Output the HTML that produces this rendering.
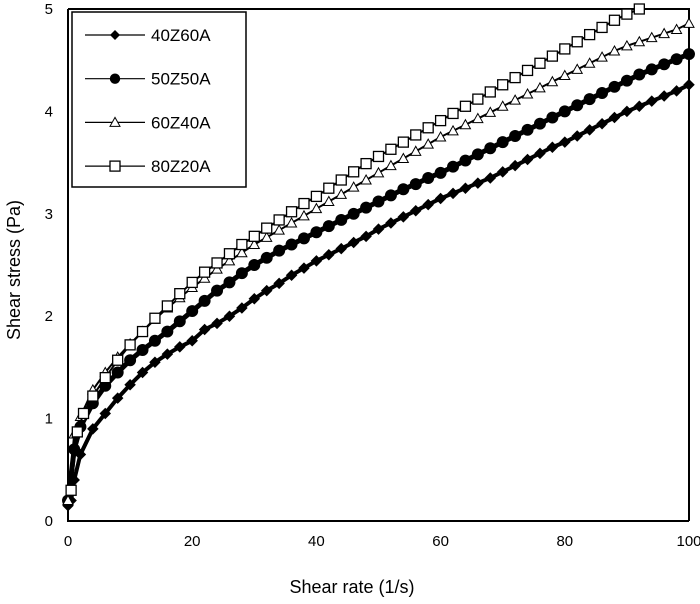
<!DOCTYPE html>
<html><head><meta charset="utf-8"><style>
body{margin:0;background:#fff;}
svg text{font-family:"Liberation Sans",Arial,sans-serif;fill:#000;}
</style></head><body>
<svg id="c" width="700" height="599" xmlns="http://www.w3.org/2000/svg"></svg>
<script>
const seriesNames=["40Z60A","50Z50A","60Z40A","80Z20A"];
const xA=[0,0.5,1,2,4,6,8,10,12,14,16,18,20,22,24,26,28,30,32,34,36,38,40,42,44,46,48,50,52,54,56,58,60,62,64,66,68,70,72,74,76,78,80,82,84,86,88,90,92,94,96,98,100];
const y40=[0.15,0.2,0.4,0.65,0.9,1.05,1.2,1.33,1.45,1.55,1.63,1.7,1.76,1.87,1.93,2.0,2.08,2.17,2.25,2.32,2.4,2.47,2.54,2.6,2.66,2.72,2.78,2.85,2.91,2.97,3.03,3.09,3.15,3.2,3.25,3.3,3.35,3.41,3.47,3.53,3.59,3.65,3.7,3.76,3.82,3.88,3.94,4.0,4.05,4.1,4.15,4.2,4.26];
const xB=[0,1,2,4,6,8,10,12,14,16,18,20,22,24,26,28,30,32,34,36,38,40,42,44,46,48,50,52,54,56,58,60,62,64,66,68,70,72,74,76,78,80,82,84,86,88,90,92,94,96,98,100];
const y50=[0.2,0.7,0.92,1.15,1.32,1.45,1.57,1.67,1.76,1.85,1.95,2.05,2.15,2.25,2.33,2.42,2.5,2.57,2.64,2.7,2.76,2.82,2.88,2.94,3.0,3.06,3.12,3.18,3.24,3.29,3.35,3.4,3.46,3.52,3.58,3.64,3.7,3.76,3.82,3.88,3.94,4.0,4.06,4.12,4.18,4.24,4.3,4.36,4.41,4.46,4.51,4.56];
const y60=[0.2,0.85,1.02,1.28,1.45,1.6,1.73,1.85,1.97,2.08,2.18,2.28,2.37,2.46,2.54,2.62,2.7,2.77,2.84,2.91,2.98,3.05,3.12,3.19,3.26,3.33,3.4,3.47,3.54,3.61,3.68,3.75,3.81,3.87,3.93,3.99,4.05,4.11,4.17,4.23,4.29,4.35,4.41,4.47,4.53,4.59,4.64,4.68,4.72,4.76,4.8,4.86];
const xD=[0.5,1.5,2.5,4,6,8,10,12,14,16,18,20,22,24,26,28,30,32,34,36,38,40,42,44,46,48,50,52,54,56,58,60,62,64,66,68,70,72,74,76,78,80,82,84,86,88,90,92];
const y80=[0.3,0.87,1.05,1.22,1.4,1.57,1.72,1.85,1.98,2.1,2.22,2.33,2.43,2.52,2.61,2.7,2.78,2.86,2.94,3.02,3.1,3.17,3.25,3.33,3.41,3.49,3.56,3.63,3.7,3.77,3.84,3.91,3.98,4.05,4.12,4.19,4.26,4.33,4.4,4.47,4.54,4.61,4.68,4.75,4.82,4.89,4.95,5.0];
const xTicks=[0,20,40,60,80,100];
const yTicks=[0,1,2,3,4,5];

const svg=document.getElementById('c');const NS="http://www.w3.org/2000/svg";
const X0=68,X1=689,Y0=521,Y1=9;
const sx=v=>X0+(X1-X0)*v/100, sy=v=>Y0-(Y0-Y1)*v/5;
function mk(t,a,p){const e=document.createElementNS(NS,t);for(const k in a)e.setAttribute(k,a[k]);(p||svg).appendChild(e);return e;}
function marker(type,cx,cy,g,big){
 const s=big?1.15:1;
 if(type==0)return mk('polygon',{points:`${cx},${cy-5*s} ${cx+5*s},${cy} ${cx},${cy+5*s} ${cx-5*s},${cy}`,fill:'#000'},g);
 if(type==1)return mk('circle',{cx,cy,r:5.2*s,fill:'#000'},g);
 if(type==2)return mk('polygon',{points:`${cx},${cy-5} ${cx+5},${cy+4} ${cx-5},${cy+4}`,fill:'#fff',stroke:'#000','stroke-width':1},g);
 return mk('rect',{x:cx-5,y:cy-5,width:10,height:10,fill:'#fff',stroke:'#000','stroke-width':1.3},g);
}
const fr=mk('path',{d:`M${X0},${Y1} L${X1},${Y1} L${X1},${Y0} M${X0},${Y1} L${X0},${Y0} L${X1},${Y0}`,stroke:'#000','stroke-width':2,fill:'none'});

xTicks.forEach(t=>{const e=mk('text',{x:sx(t),y:Y0+25,'font-size':15,'text-anchor':'middle'});e.textContent=t;
 });
yTicks.forEach(t=>{const e=mk('text',{x:53,y:sy(t)+5,'font-size':15,'text-anchor':'end'});e.textContent=t;
 });
const xt=mk('text',{x:352,y:593,'font-size':18,'text-anchor':'middle'});xt.textContent='Shear rate (1/s)';

const yt=mk('text',{x:0,y:0,'font-size':18,'text-anchor':'middle',transform:'translate(20,270) rotate(-90)'});yt.textContent='Shear stress (Pa)';

const data=[[xA,y40],[xB,y50],[xB,y60],[xD,y80]];
const widths=[4,5,2,2];
data.forEach((d,i)=>{
 const g=mk('g',{});
 mk('polyline',{points:d[0].map((x,j)=>sx(x)+','+sy(d[1][j])).join(' '),fill:'none',stroke:'#000','stroke-width':widths[i]},g);
 d[0].forEach((x,j)=>{const m=marker(i,sx(x),sy(d[1][j]),g,true);});
});
const lg=mk('g',{});
mk('rect',{x:72,y:12,width:174,height:175,fill:'#fff',stroke:'#000','stroke-width':1.5},lg);
seriesNames.forEach((n,i)=>{const y=35+i*43.7;
 const g=mk('g',{},lg);
 mk('line',{x1:85,y1:y,x2:145,y2:y,stroke:'#000','stroke-width':1.2},g);marker(i,115,y,g,false);
 const t=mk('text',{x:151,y:y+6,'font-size':17},g);t.textContent=n;});
</script>
</body></html>
